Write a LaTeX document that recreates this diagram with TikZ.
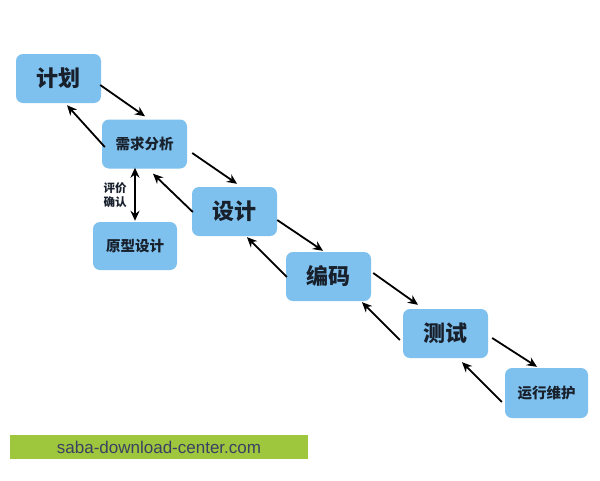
\documentclass[tikz,border=0pt]{standalone}
\usepackage{fontspec}
\usetikzlibrary{arrows.meta,calc}
\newfontfamily\cjk{Noto Sans CJK SC}
\newfontfamily\urlfont{Liberation Sans}
\definecolor{boxblue}{HTML}{7FC1EE}
\definecolor{boxtext}{HTML}{18202C}
\definecolor{bargreen}{HTML}{9FC73E}
\definecolor{bartext}{HTML}{3B4062}
\tikzset{
  stagebox/.style={draw=none, fill=boxblue, rounded corners=7pt, text=boxtext,
    inner sep=0pt, minimum width=85pt, minimum height=49pt, font=\cjk\bfseries},
  bigtext/.style={font=\cjk\bfseries\fontsize{22}{25}\selectfont},
  smalltext/.style={font=\cjk\bfseries\fontsize{14.5}{17}\selectfont},
  flow/.style={draw=black, line width=1.8pt, -{Stealth[length=10pt,width=9pt]}},
  twoway/.style={draw=black, line width=1.8pt, {Stealth[length=10pt,width=9pt]}-{Stealth[length=10pt,width=9pt]}}
}
\begin{document}
\begin{tikzpicture}[x=1pt,y=-1pt]
\useasboundingbox (0,0) rectangle (600,480);
\fill[white] (0,0) rectangle (600,480);

\node[stagebox, bigtext] (plan) at (58.5,78.5) {计划};
\node[stagebox, smalltext] (req) at (144.5,144) {需求分析};
\node[stagebox, smalltext, minimum width=84pt, minimum height=48pt] (proto) at (135,246) {原型设计};
\node[stagebox, bigtext] (design) at (234.5,211.5) {设计};
\node[stagebox, bigtext] (code) at (328.5,276.5) {编码};
\node[stagebox, bigtext] (test) at (445.5,333.5) {测试};
\node[stagebox, smalltext, minimum width=83pt, minimum height=50pt] (ops) at (546.5,393) {运行维护};

\node[font=\cjk\bfseries\fontsize{11.5}{14}\selectfont, text=boxtext, align=center, inner sep=0pt] (eval) at (115,195) {评价\\确认};

% forward arrows
\draw[flow] ($(plan.east)+(-1,6.5)$) -- ($(req.north)+(0.5,-3)$);
\draw[flow] ($(req.east)+(5,9)$) -- ($(design.north)+(2.5,-3)$);
\draw[flow] ($(design.east)+(0,8.5)$) -- ($(code.north)+(-5.5,-1)$);
\draw[flow] ($(code.east)+(2,-3.5)$) -- ($(test.north)+(-27.5,-4)$);
\draw[flow] ($(test.east)+(4,4.5)$) -- ($(ops.north)+(-9.5,-1)$);

% backward arrows
\draw[flow] ($(req.west)+(3,3)$) -- ($(plan.south)+(8.5,2)$);
\draw[flow] ($(design.west)+(1,0.5)$) -- ($(req.south)+(8.5,5)$);
\draw[flow] ($(code.west)+(1,0.5)$) -- ($(design.south)+(12.5,1)$);
\draw[flow] ($(test.west)+(-3,6.5)$) -- ($(code.south)+(33.5,1)$);
\draw[flow] ($(ops.west)+(-3,9)$) -- ($(test.south)+(16.5,4)$);

% prototype link
\draw[twoway] ($(req.south)+(-9.5,-1)$) -- ($(proto.north)+(0,-1)$);

% footer bar
\fill[bargreen] (10,435) rectangle (308,459);
\node[font=\urlfont\fontsize{17}{20}\selectfont, text=bartext, inner sep=0pt] (url) at (159,447.5) {saba-download-center.com};
\end{tikzpicture}
\end{document}
